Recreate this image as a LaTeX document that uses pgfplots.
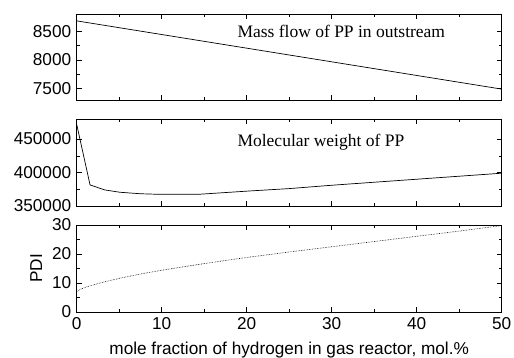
\documentclass[border=0pt]{standalone}
\usepackage{fontspec}
\setmainfont{Liberation Sans}
\newfontfamily\seriffont{Liberation Serif}
\usepackage{pgfplots}
\pgfplotsset{compat=1.18}

\pgfplotsset{
  panel/.style={
    scale only axis,
    width=425pt, height=86pt,
    xmin=0, xmax=50,
    xtick={0,10,20,30,40,50},
    minor x tick num=1,
    minor y tick num=1,
    tick align=inside,
    major tick length=5pt,
    minor tick length=3pt,
    axis line style={line width=0.9pt},
    every tick/.style={black, line width=0.6pt},
    tick label style={font=\fontsize{17.2}{19}\selectfont},
    label style={font=\fontsize{17.2}{19}\selectfont},
    /pgf/number format/assume math mode=true,
    /pgf/number format/fixed,
    /pgf/number format/precision=0,
    /pgf/number format/set thousands separator={},
    scaled y ticks=false,
    yticklabel style={xshift=-2pt},
  },
}

\begin{document}
\begin{tikzpicture}
\path[use as bounding box] (-76.7pt,-46pt) rectangle (437.3pt,312pt);

% top panel: mass flow
\begin{axis}[panel, at={(0pt,212pt)}, anchor=south west,
  ymin=7300, ymax=8800, ytick={7500,8000,8500},
  xticklabels={}]
\addplot[black, line width=0.7pt] coordinates {
(0,8680)(5,8561)(10,8442)(15,8323)(20,8204)(25,8085)
(30,7966)(35,7847)(40,7728)(45,7609)(50,7490)};
\node[font=\seriffont\fontsize{17.5}{19}\selectfont, anchor=west, inner sep=0pt] at (axis cs:18.9,8495) {Mass flow of PP in outstream};
\end{axis}

% middle panel: molecular weight
\begin{axis}[panel, at={(0pt,106pt)}, anchor=south west, height=87pt,
  ymin=350000, ymax=480000, ytick={350000,400000,450000},
  xticklabels={}]
\addplot[black, line width=0.7pt] coordinates {
(0,472000)(1.57,381500)(3.3,374000)(5.1,370500)(7.5,368300)(9.8,367400)
(14.5,367600)(20.4,372500)(25,376000)(30,381000)(35,385500)(40,390000)
(45,394500)(50,399000)};
\node[font=\seriffont\fontsize{17.5}{19}\selectfont, anchor=west, inner sep=0pt] at (axis cs:18.9,446000) {Molecular weight of PP};
\end{axis}

% bottom panel: PDI
\begin{axis}[panel, at={(0pt,0pt)}, anchor=south west, height=87pt,
  ymin=0, ymax=30, ytick={0,10,20,30},
  ylabel={PDI},
  xlabel={mole fraction of hydrogen in gas reactor, mol.\%},
  xticklabel style={yshift=-2pt},
  xlabel style={yshift=-5pt},
  ylabel style={yshift=3pt}]
\addplot[black, line width=0.6pt, densely dotted] coordinates {
(0,7.0)(0.5,7.9)(1,8.5)(2,9.4)(3,10.2)(5,11.6)(7.5,13.1)(10,14.4)
(15,16.7)(20,18.8)(25,20.7)(30,22.5)(35,24.3)(40,26.1)(45,27.9)(50,29.8)};
\end{axis}
\end{tikzpicture}
\end{document}
